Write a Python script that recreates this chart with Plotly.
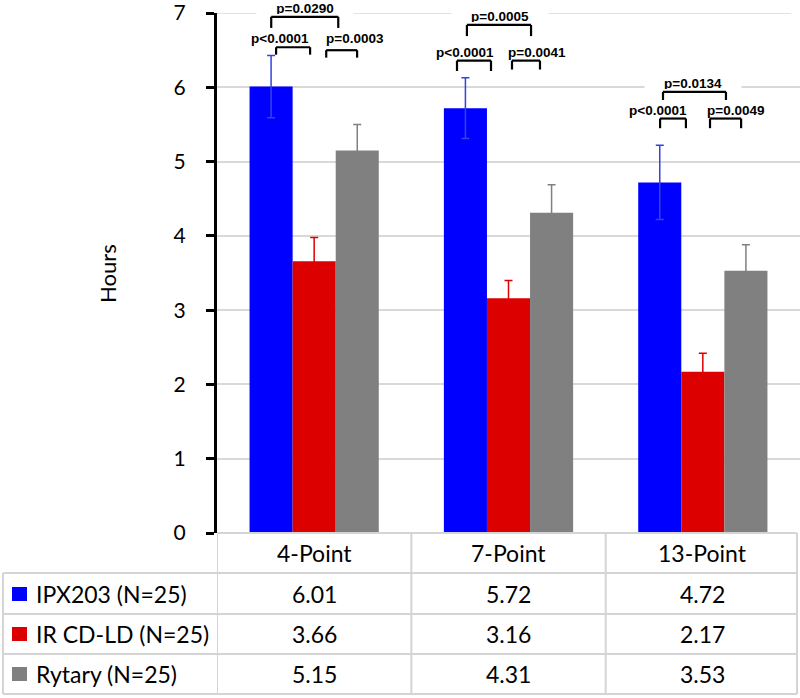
import plotly.graph_objects as go

categories = ["4-Point", "7-Point", "13-Point"]
series_names = ["IPX203 (N=25)", "IR CD-LD (N=25)", "Rytary (N=25)"]
ipx203 = [6.01, 5.72, 4.72]
ir_cdld = [3.66, 3.16, 2.17]
rytary = [5.15, 4.31, 3.53]
ipx203_err = [0.42, 0.41, 0.50]
ir_cdld_err = [0.32, 0.24, 0.25]
rytary_err = [0.35, 0.38, 0.35]
p_ipx_vs_ir = ["p<0.0001", "p<0.0001", "p<0.0001"]
p_ir_vs_rytary = ["p=0.0003", "p=0.0041", "p=0.0049"]
p_ipx_vs_rytary = ["p=0.0290", "p=0.0005", "p=0.0134"]
y_ticks = [0, 1, 2, 3, 4, 5, 6, 7]

colors = ["#0000FF", "#DD0000", "#808080"]
err_colors = ["#3344DD", "#DD0000", "#808080"]
values = [ipx203, ir_cdld, rytary]
errors = [ipx203_err, ir_cdld_err, rytary_err]

FONT = "Lato"
W, H = 800, 698
L, R, T, B = 217, 0, 13, 165
PW = W - L - R
PH = H - T - B
YMAX = 7.0
GRID = "#D9D9D9"


def px(xp):
    return (xp - L) / PW


def py(yp):
    return (H - B - yp) / PH


fig = go.Figure()
for name, vals, errs, c, ec in zip(series_names, values, errors, colors, err_colors):
    fig.add_trace(go.Bar(
        x=categories, y=vals, name=name, marker=dict(color=c, line=dict(width=0)),
        error_y=dict(type="data", array=errs, visible=True, color=ec, thickness=1.5, width=4),
        showlegend=False,
    ))

shapes = []
annotations = []

# top gridline (plotly drops the grid line at the very edge of the range)
shapes.append(dict(type="line", xref="paper", yref="y", x0=0, x1=0.985, y0=YMAX, y1=YMAX,
                   line=dict(color=GRID, width=1.5), layer="below"))

# bracket geometry per category: (x0 offset, x1 offset, y top, y bottom, text x offset, text y)
bracket_geom = [
    {"big": (-0.221, 0.124, 6.95, 6.80, -0.046, 7.07),
     "a": (-0.196, -0.021, 6.54, 6.44, -0.175, 6.66),
     "b": (0.062, 0.221, 6.50, 6.40, 0.211, 6.66)},
    {"big": (-0.214, 0.116, 6.84, 6.69, -0.044, 6.96),
     "a": (-0.265, -0.09, 6.36, 6.22, -0.224, 6.47),
     "b": (0.018, 0.162, 6.36, 6.24, 0.147, 6.47)},
    {"big": (-0.205, 0.119, 5.94, 5.83, -0.050, 6.06),
     "a": (-0.220, -0.087, 5.58, 5.45, -0.230, 5.69),
     "b": (0.037, 0.197, 5.58, 5.45, 0.166, 5.69)},
]
for i in range(len(categories)):
    texts = {"big": p_ipx_vs_rytary[i], "a": p_ipx_vs_ir[i], "b": p_ir_vs_rytary[i]}
    for key, (x0, x1, yt, yb, tx, ty) in bracket_geom[i].items():
        lk = dict(color="black", width=2.2)
        shapes.append(dict(type="line", xref="x", yref="y", x0=i + x0, x1=i + x0, y0=yb, y1=yt, line=lk, layer="above"))
        shapes.append(dict(type="line", xref="x", yref="y", x0=i + x1, x1=i + x1, y0=yb, y1=yt, line=lk, layer="above"))
        shapes.append(dict(type="line", xref="x", yref="y", x0=i + x0, x1=i + x1, y0=yt, y1=yt, line=lk, layer="above"))
        ann = dict(x=i + tx, y=ty / YMAX, xref="x", yref="paper", text="<b>%s</b>" % texts[key],
                   showarrow=False, font=dict(family="Liberation Sans", size=13.5, color="black"),
                   xanchor="center", yanchor="middle")
        if key == "big":
            ann.update(bgcolor="white", width=96, height=12, borderpad=0)
        annotations.append(ann)

# data table below the chart
tcol = "#D4D4D4"
row_lines = [H - B, 573, 614, 654, 694]
for k, yl in enumerate(row_lines):
    x0 = 0 if k == 0 else px(3)
    shapes.append(dict(type="line", xref="paper", yref="paper", x0=x0, x1=px(797), y0=py(yl), y1=py(yl),
                       line=dict(color=tcol, width=2)))
shapes.append(dict(type="line", xref="paper", yref="paper", x0=px(3), x1=px(3), y0=py(573), y1=py(694),
                   line=dict(color=tcol, width=2)))
for xb in [-0.5, 0.5, 1.5]:
    shapes.append(dict(type="line", xref="x", yref="paper", x0=xb, x1=xb, y0=py(H - B), y1=py(694),
                       line=dict(color=tcol, width=2)))
shapes.append(dict(type="line", xref="paper", yref="paper", x0=px(797), x1=px(797), y0=py(H - B), y1=py(694),
                   line=dict(color=tcol, width=2)))

tfont = dict(family=FONT, size=23, color="black")
for i, c in enumerate(categories):
    annotations.append(dict(x=i, y=py(553), xref="x", yref="paper", text=c, showarrow=False,
                            font=tfont, xanchor="center", yanchor="middle"))
row_centers = [594, 634, 674]
for r, (name, vals, col) in enumerate(zip(series_names, values, colors)):
    yc = row_centers[r]
    shapes.append(dict(type="rect", xref="paper", yref="paper", x0=px(12), x1=px(27),
                       y0=py(yc - 7), y1=py(yc + 7), fillcolor=col, line=dict(width=0)))
    annotations.append(dict(x=px(34), y=py(yc), xref="paper", yref="paper", text=name, showarrow=False,
                            font=tfont, xanchor="left", yanchor="middle"))
    for i, v in enumerate(vals):
        annotations.append(dict(x=i, y=py(yc), xref="x", yref="paper", text="%.2f" % v, showarrow=False,
                                font=tfont, xanchor="center", yanchor="middle"))

annotations.append(dict(x=px(107), y=0.5, xref="paper", yref="paper", text="Hours", textangle=-90,
                        showarrow=False, font=dict(family=FONT, size=22, color="black"),
                        xanchor="center", yanchor="middle"))

fig.update_layout(
    width=W, height=H, margin=dict(l=L, r=R, t=T, b=B, autoexpand=False),
    paper_bgcolor="white", plot_bgcolor="white",
    barmode="group", bargap=0.335, bargroupgap=0,
    shapes=shapes, annotations=annotations,
    xaxis=dict(type="category", range=[-0.5, 2.5], showticklabels=False, showline=False,
               showgrid=False, zeroline=False, ticks=""),
    yaxis=dict(range=[0, YMAX + 0.001], tickvals=y_ticks, showgrid=True,
               gridcolor=GRID, gridwidth=1.5, ticklabeloverflow="allow",
               zeroline=False, showline=True, linecolor="black", linewidth=3, ticks="outside",
               ticklen=8, tickwidth=3, tickcolor="black", ticklabelstandoff=16,
               tickfont=dict(family=FONT, size=21, color="black")),
)

fig.write_html("out.html", post_script="document.body.style.margin='0';",
               config={"displayModeBar": False})
